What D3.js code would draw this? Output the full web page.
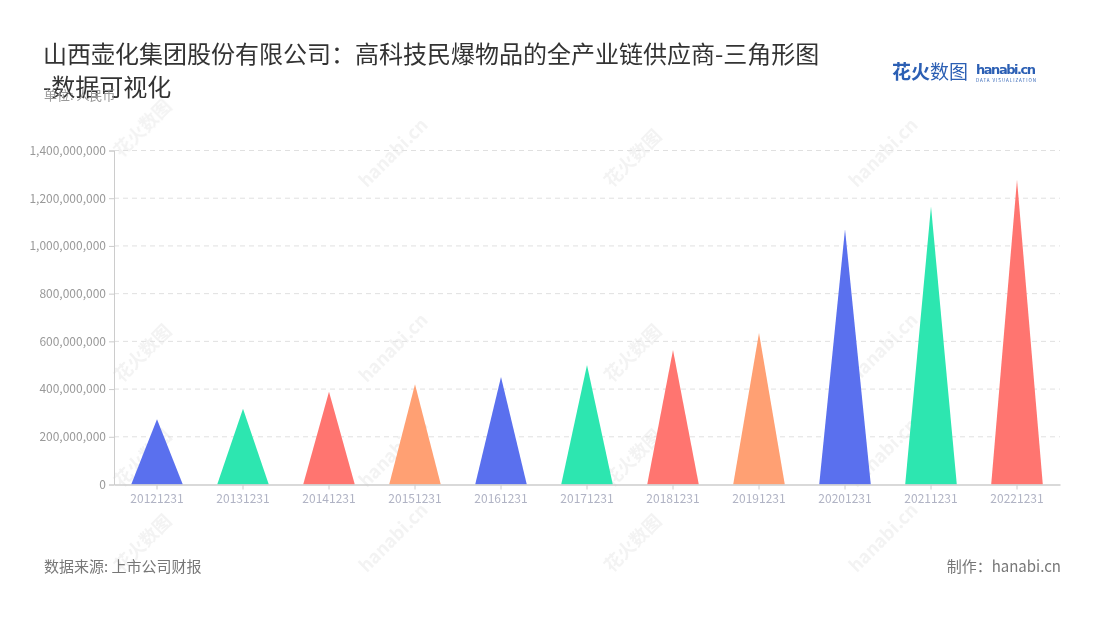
<!DOCTYPE html>
<html><head><meta charset="utf-8">
<script src="https://cdn.jsdelivr.net/npm/d3@7/dist/d3.min.js"></script>
<style>body{margin:0;background:#fff;}svg{display:block;font-family:"Noto Sans CJK SC","Noto Sans",sans-serif;}</style>
</head><body><svg id="c" width="1100" height="620"></svg>
<script>
const categories = ["20121231","20131231","20141231","20151231","20161231","20171231","20181231","20191231","20201231","20211231","20221231"];
const values = [274000000,317000000,389000000,420000000,451000000,501000000,564000000,635000000,1070000000,1165000000,1277000000];
const palette = ["#5a70ee","#2de6b0","#ff7570","#ffa073"];
const yTicks = [0,200000000,400000000,600000000,800000000,1000000000,1200000000,1400000000];
const titleLines = ["山西壶化集团股份有限公司：高科技民爆物品的全产业链供应商-三角形图","-数据可视化"];

const svg = d3.select("#c");
const L = 114, R = 1060, T = 150.5, B = 484.5;
const x = d3.scaleBand().domain(categories).range([L, R]).padding(0);
const y = d3.scaleLinear().domain([0, 1400000000]).range([B, T]);

// watermarks
const wm = svg.append("g").attr("opacity", 0.18);
const wmPos = [[150,130],[395,160],[640,160],[885,160],[150,355],[395,355],[640,355],[885,355],[150,545],[395,545],[640,545],[885,545],[150,460],[395,460],[640,460],[885,460]];
wmPos.forEach(([px,py],i)=>{
  const g = wm.append("g").attr("transform",`translate(${px},${py}) rotate(-45)`);
  g.append("text").attr("x",-40).attr("y",0).attr("font-size",18).attr("font-weight","bold").attr("fill","#bbb").text(i%2?"hanabi.cn":"花火数图");
});

// grid
svg.append("g").selectAll("line").data(yTicks.filter(d=>d>0)).join("line")
  .attr("x1",L).attr("x2",R).attr("y1",d=>y(d)).attr("y2",d=>y(d))
  .attr("stroke","#e0e0e0").attr("stroke-dasharray","5,4");

// y axis
const ya = svg.append("g").attr("transform",`translate(${L},0)`)
  .call(d3.axisLeft(y).tickValues(yTicks).tickFormat(d3.format(",")).tickSize(5).tickPadding(3));
ya.select(".domain").attr("stroke","#ccc");
ya.selectAll(".tick line").attr("stroke","#ccc");
ya.selectAll("text").attr("fill","#999").attr("font-size",12).attr("font-family","Noto Sans CJK SC");

// triangles
svg.append("g").selectAll("path").data(values).join("path")
  .attr("d",(d,i)=>{
    const c = x(categories[i]) + x.bandwidth()/2, w = x.bandwidth()*0.6;
    return `M${c-w/2},${y(0)}L${c},${y(d)}L${c+w/2},${y(0)}Z`;
  })
  .attr("fill",(d,i)=>palette[i%4]);

// x axis
const xa = svg.append("g").attr("transform",`translate(0,${B})`)
  .call(d3.axisBottom(x).tickSize(5).tickPadding(5).tickSizeOuter(0));
xa.select(".domain").attr("stroke","#ccc").attr("stroke-width",1.5);
xa.selectAll(".tick line").attr("stroke","#ccc");
xa.selectAll("text").attr("fill","#b0b3c4").attr("font-size",12).attr("font-family","Noto Sans CJK SC");

// title
svg.append("g").selectAll("text").data(titleLines).join("text")
  .attr("x",43).attr("y",(d,i)=>63+i*33).attr("font-size",24).attr("fill","#333").text(d=>d);
svg.append("text").attr("x",44).attr("y",100).attr("font-size",13).attr("fill","#999").text("单位: 人民币");

// logo
const lg = svg.append("g");
lg.append("text").attr("x",892).attr("y",79).attr("font-size",19).attr("font-weight","bold").attr("fill","#2b5fb4").text("花火");
lg.append("text").attr("x",930).attr("y",79).attr("font-size",19).attr("fill","#2b5fb4").text("数图");
lg.append("text").attr("x",976).attr("y",74).attr("font-size",13).attr("font-weight","bold").attr("fill","#2b5fb4").attr("font-family","DejaVu Sans").attr("textLength",60).text("hanabi.cn");
lg.append("text").attr("x",976).attr("y",82).attr("font-size",4.5).attr("fill","#2b5fb4").attr("textLength",60).text("DATA VISUALIZATION");

// footer
svg.append("text").attr("x",44).attr("y",572).attr("font-size",15).attr("fill","#777").text("数据来源: 上市公司财报");
svg.append("text").attr("x",1061).attr("y",572).attr("text-anchor","end").attr("font-size",15).attr("fill","#777").text("制作：hanabi.cn");
</script></body></html>
